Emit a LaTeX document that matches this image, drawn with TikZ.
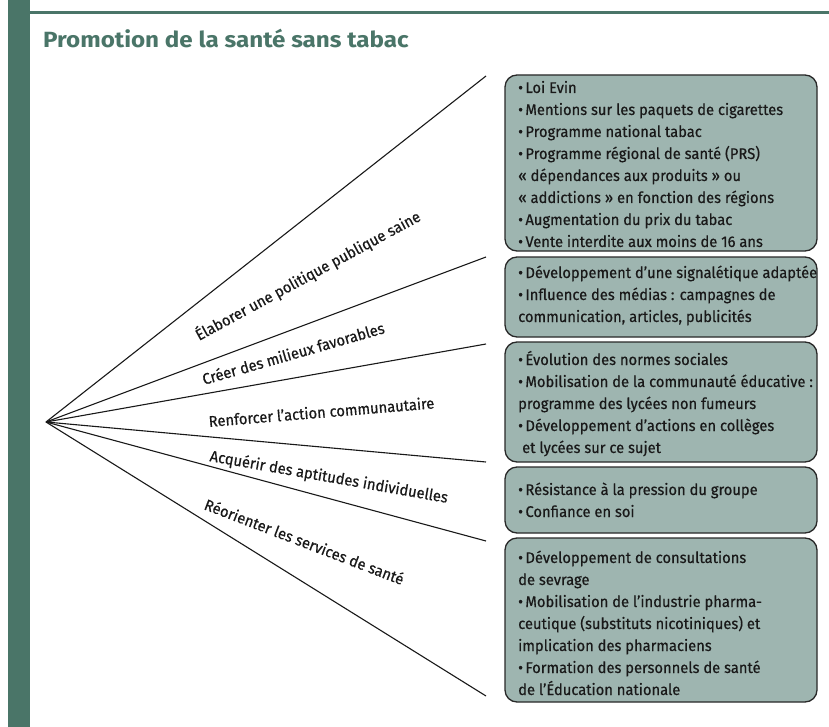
\documentclass[tikz,border=0pt]{standalone}
\usepackage{fontspec}
\setmainfont{Fira Sans}
\newfontfamily\condfont[FakeStretch=0.95,FakeBold=0.5]{Fira Sans}
\newfontfamily\headfont[FakeStretch=1.1]{Fira Sans}
\definecolor{deepgreen}{RGB}{74,117,104}
\definecolor{boxfill}{RGB}{158,181,176}
\definecolor{boxline}{RGB}{40,40,40}
\definecolor{inkcol}{RGB}{25,25,25}
\newcommand\bpt[1]{\hbox{•\hspace{2.5pt}#1}}
\newcommand\bcont[1]{\hbox{#1}}
\newcommand\blines[1]{\vtop{\baselineskip=22pt\lineskiplimit=-100pt #1}}
\begin{document}
\begin{tikzpicture}[x=1pt,y=-1pt,
  infobox/.style={draw=boxline, fill=boxfill, line width=1.3pt, rounded corners=12pt,
    minimum width=312pt, anchor=north west, inner sep=0pt, outer sep=0pt},
  boxtext/.style={anchor=base west, inner sep=0pt, font=\condfont\fontsize{15.5}{22}\selectfont, text=inkcol},
  branch/.style={draw=inkcol, line width=1.1pt},
  lab/.style={anchor=base west, inner sep=0pt, font=\condfont\fontsize{15.5}{17}\selectfont, text=inkcol}]
\useasboundingbox (0,0) rectangle (829,727);
\fill[white] (0,0) rectangle (829,727);
% frame
\fill[deepgreen] (8,0) rectangle (30,727);
\fill[deepgreen] (30,11) rectangle (829,14);
\node[anchor=base west, inner sep=0pt, font=\headfont\bfseries\fontsize{22}{24}\selectfont, text=deepgreen] (title) at (43,47.7) {Promotion de la santé sans tabac};
% branches
\coordinate (o) at (46,422);
\coordinate (e1) at (486,76);
\coordinate (e2) at (486,257);
\coordinate (e3) at (486,344);
\coordinate (e4) at (486,462);
\coordinate (e5) at (486,541);
\coordinate (e6) at (486,696);
\foreach \i in {1,...,6} \draw[branch] (o) -- (e\i);
% labels
\node[lab, rotate=28.5] (l1) at (199,341) {Élaborer une politique publique saine};
\node[lab, rotate=16] (l2) at (204,385) {Créer des milieux favorables};
\node[lab, rotate=4.7] (l3) at (209,427) {Renforcer l’action communautaire};
\node[lab, rotate=-10] (l4) at (209,461) {Acquérir des aptitudes individuelles};
\node[lab, rotate=-21] (l5) at (203,509) {Réorienter les services de santé};
% boxes
\node[infobox, minimum height=176pt] (b1) at (505,75) {};
\node[infobox, minimum height=80pt] (b2) at (505,257) {};
\node[infobox, minimum height=120pt] (b3) at (505,342) {};
\node[infobox, minimum height=66pt] (b4) at (505,467) {};
\node[infobox, minimum height=164pt] (b5) at (505,538) {};
% texts
\node[boxtext] (t1) at (518,93) {\blines{%
  \bpt{Loi Evin}
  \bpt{Mentions sur les paquets de cigarettes}
  \bpt{Programme national tabac}
  \bpt{Programme régional de santé (PRS)}
  \bcont{« dépendances aux produits » ou}
  \bcont{« addictions » en fonction des régions}
  \bpt{Augmentation du prix du tabac}
  \bpt{Vente interdite aux moins de 16 ans}}};
\node[boxtext] (t2) at (518,278) {\blines{%
  \bpt{Développement d’une signalétique adaptée}
  \bpt{Influence des médias : campagnes de}
  \bcont{communication, articles, publicités}}};
\node[boxtext] (t3) at (518,365) {\blines{%
  \bpt{Évolution des normes sociales}
  \bpt{Mobilisation de la communauté éducative :}
  \bcont{programme des lycées non fumeurs}
  \bpt{Développement d’actions en collèges}
  \bcont{\hspace{4pt}et lycées sur ce sujet}}};
\node[boxtext] (t4) at (518,495) {\blines{%
  \bpt{Résistance à la pression du groupe}
  \bpt{Confiance en soi}}};
\node[boxtext] (t5) at (518,563) {\blines{%
  \bpt{Développement de consultations}
  \bcont{de sevrage}
  \bpt{Mobilisation de l’industrie pharma-}
  \bcont{ceutique (substituts nicotiniques) et}
  \bcont{implication des pharmaciens}
  \bpt{Formation des personnels de santé}
  \bcont{de l’Éducation nationale}}};
\end{tikzpicture}
\end{document}
